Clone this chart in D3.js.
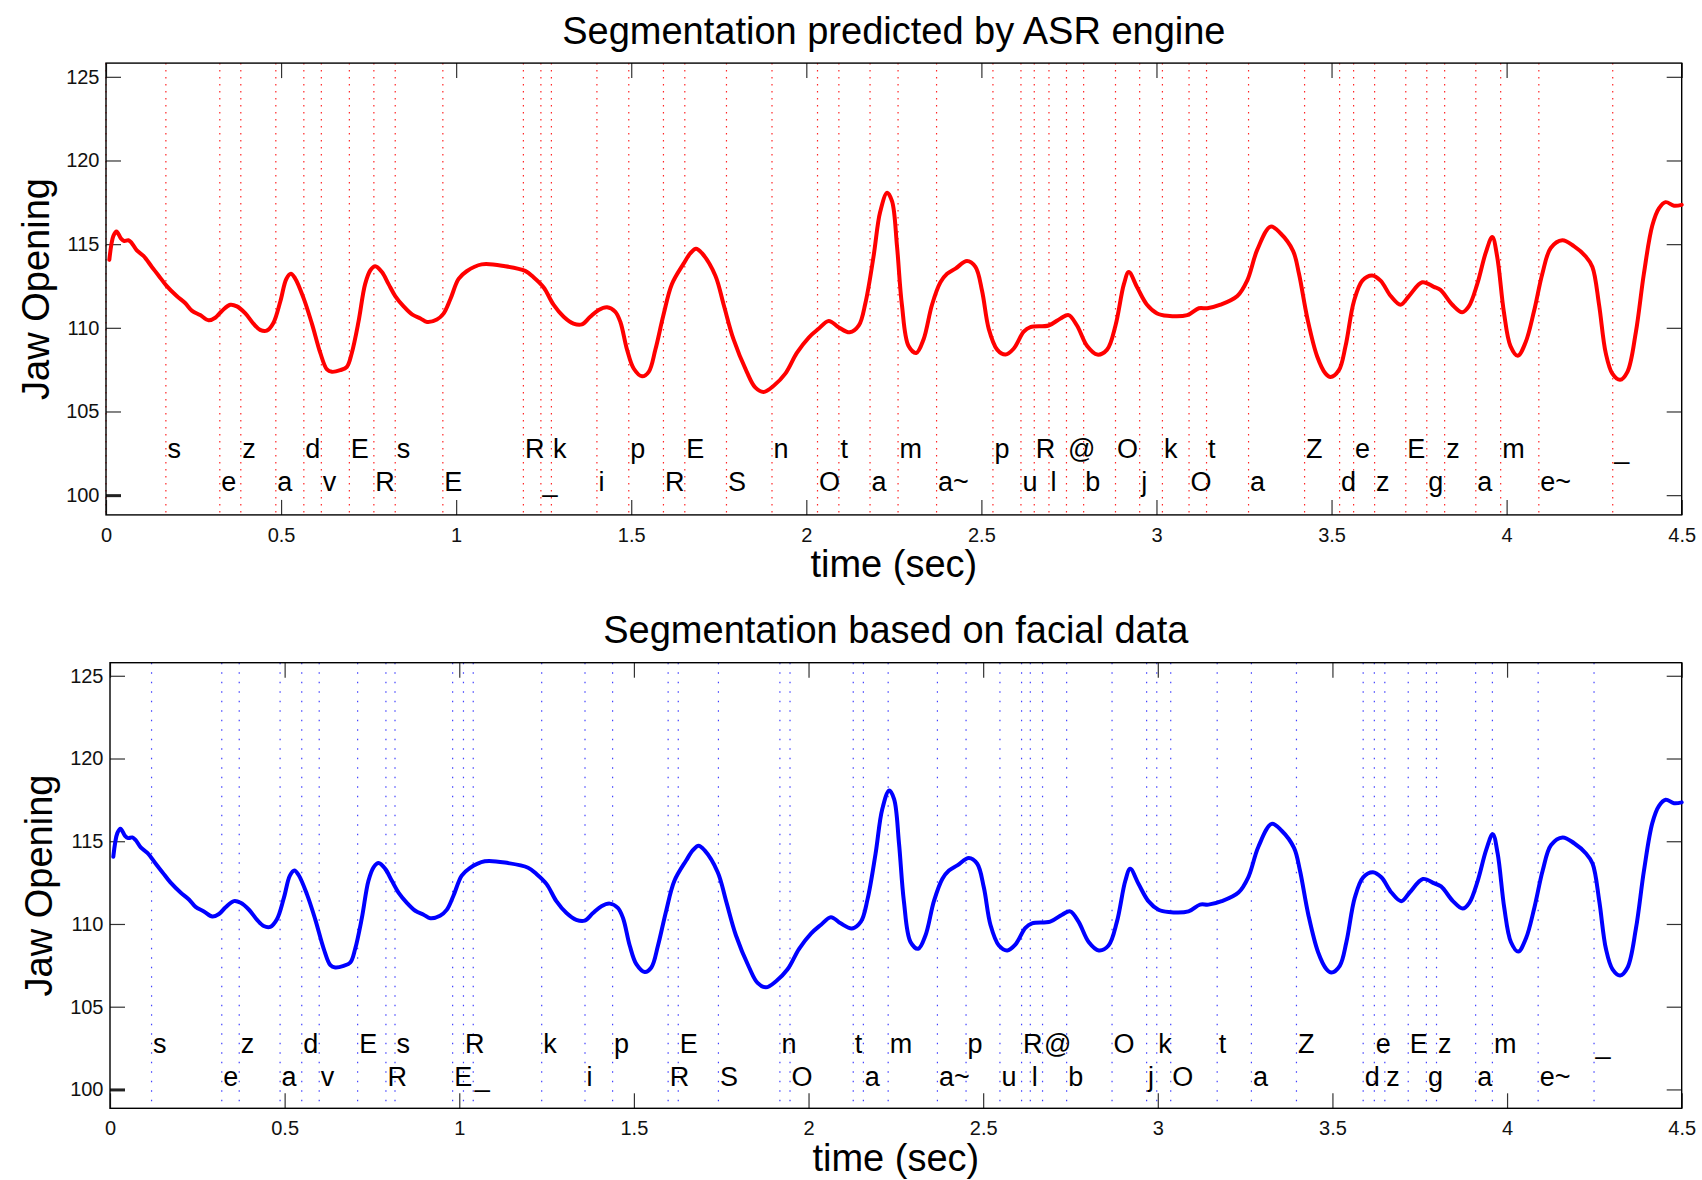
<!DOCTYPE html>
<html><head><meta charset="utf-8">
<script src="https://cdn.jsdelivr.net/npm/d3@7"></script>
<style>
body{margin:0;background:#fff}
svg{display:block}
text{font-family:"Liberation Sans",Arial,Helvetica,sans-serif}
</style>
</head><body>
<svg id="c" width="1702" height="1180"></svg>
<script>
// ---- data ----
const timeSec = [0.0095,0.021,0.030,0.043,0.052,0.064,0.073,0.088,0.107,0.131,0.150,0.173,0.202,0.226,0.245,0.269,0.293,0.312,0.331,0.355,0.374,0.398,0.421,0.440,0.459,0.478,0.498,0.515,0.528,0.540,0.564,0.588,0.612,0.631,0.645,0.669,0.688,0.702,0.721,0.740,0.755,0.769,0.788,0.807,0.826,0.850,0.874,0.898,0.917,0.945,0.964,0.983,1.007,1.030,1.073,1.140,1.197,1.221,1.250,1.278,1.307,1.335,1.359,1.383,1.407,1.431,1.454,1.469,1.488,1.507,1.531,1.550,1.569,1.592,1.616,1.650,1.669,1.685,1.702,1.740,1.764,1.792,1.830,1.854,1.878,1.907,1.940,1.973,2.007,2.035,2.064,2.092,2.124,2.150,2.169,2.192,2.211,2.231,2.245,2.259,2.273,2.292,2.314,2.335,2.359,2.383,2.402,2.426,2.459,2.483,2.502,2.521,2.545,2.569,2.592,2.621,2.640,2.692,2.726,2.749,2.773,2.802,2.831,2.859,2.883,2.907,2.921,2.945,2.973,3.002,3.031,3.088,3.121,3.145,3.183,3.231,3.259,3.288,3.326,3.354,3.390,3.407,3.431,3.459,3.483,3.497,3.521,3.540,3.564,3.588,3.616,3.640,3.669,3.697,3.721,3.759,3.792,3.811,3.845,3.873,3.892,3.916,3.940,3.959,3.973,3.992,4.011,4.032,4.054,4.078,4.102,4.126,4.159,4.192,4.226,4.245,4.264,4.283,4.302,4.324,4.345,4.369,4.392,4.416,4.435,4.454,4.478,4.500];
const jawOpening = [114.06,115.49,115.76,115.33,115.19,115.23,115.08,114.63,114.30,113.64,113.13,112.51,111.90,111.48,111.03,110.76,110.45,110.60,111.01,111.38,111.28,110.86,110.25,109.88,109.83,110.29,111.59,112.92,113.23,112.96,111.79,110.25,108.50,107.51,107.37,107.47,107.67,108.50,110.35,112.61,113.44,113.68,113.33,112.61,111.90,111.28,110.80,110.56,110.35,110.50,110.85,111.69,112.92,113.38,113.79,113.68,113.40,113.02,112.41,111.38,110.66,110.25,110.20,110.66,111.07,111.23,110.97,110.35,108.70,107.57,107.10,107.37,108.70,110.76,112.61,113.85,114.46,114.73,114.46,113.13,111.38,109.32,107.37,106.44,106.17,106.54,107.26,108.50,109.42,109.94,110.41,110.04,109.73,110.14,111.50,114.26,116.93,118.07,117.55,114.88,111.38,108.91,108.50,109.32,111.38,112.72,113.23,113.54,113.99,113.64,112.20,109.94,108.70,108.40,108.75,109.77,110.04,110.14,110.56,110.76,110.14,108.91,108.40,108.70,110.14,112.61,113.33,112.41,111.38,110.86,110.72,110.76,111.17,111.17,111.38,111.90,112.82,114.67,116.05,115.65,114.60,113.23,110.56,108.29,107.26,107.06,107.47,108.91,111.59,112.82,113.13,112.82,111.90,111.38,111.90,112.72,112.45,112.27,111.38,110.93,111.28,112.61,114.46,115.43,114.26,110.97,108.91,108.33,109.12,110.97,113.23,114.77,115.23,114.88,114.26,113.64,111.38,108.50,107.26,106.89,107.37,109.73,113.23,116.11,117.14,117.51,117.30,117.35];

const phonemes = ["s","e","z","a","d","v","E","R","s","E","R","_","k","i","p","R","E","S","n","O","t","a","m","a~","p","u","R","l","@","b","O","j","k","O","t","a","Z","d","e","z","E","g","z","a","m","e~","_"];
const asrBoundaries = [0.171,0.325,0.385,0.485,0.565,0.615,0.695,0.765,0.826,0.962,1.192,1.242,1.272,1.402,1.493,1.592,1.653,1.772,1.902,2.032,2.093,2.182,2.262,2.372,2.533,2.613,2.651,2.693,2.743,2.792,2.883,2.952,3.017,3.093,3.143,3.263,3.423,3.523,3.563,3.623,3.712,3.772,3.823,3.912,3.983,4.092,4.303];
const asrLeadingBoundary = [0];
const facialBoundaries = [0.119,0.320,0.370,0.487,0.549,0.599,0.709,0.790,0.816,0.981,1.012,1.040,1.236,1.360,1.439,1.598,1.627,1.742,1.918,1.947,2.128,2.157,2.228,2.369,2.451,2.548,2.610,2.635,2.670,2.739,2.869,2.968,2.997,3.037,3.170,3.268,3.397,3.588,3.620,3.650,3.717,3.769,3.798,3.910,3.958,4.089,4.249];
const xTicks = [0,0.5,1,1.5,2,2.5,3,3.5,4,4.5];
const yTicks = [100,105,110,115,120,125];
const labelRows = [102.2, 100.22];
const titles = ["Segmentation predicted by ASR engine","Segmentation based on facial data"];

// ---- drawing ----
const svg = d3.select("#c");
svg.append("rect").attr("width",1702).attr("height",1180).attr("fill","#fff");

const panels = [
  {title:titles[0], box:{l:106,r:1681.7,t:63.1,b:514.9}, dom:[98.82,125.82], color:"#ff0000", bounds:asrLeadingBoundary, labelBounds:asrBoundaries, dash:"1.5,5.5", lineOpacity:0.85, titleY:44, xlabY:577, ylabX:49},
  {title:titles[1], box:{l:110,r:1681.7,t:662.7,b:1108.3}, dom:[98.86,125.79], color:"#0000ff", bounds:[], labelBounds:facialBoundaries, dash:"1.5,8", lineOpacity:0.75, titleY:643, xlabY:1171, ylabX:52}
];

panels.forEach(p => {
  const B = p.box;
  const x = d3.scaleLinear().domain([0,4.5]).range([B.l,B.r]);
  const y = d3.scaleLinear().domain(p.dom).range([B.b,B.t]);
  const g = svg.append("g");

  // segment boundaries
  const allB = p.bounds.concat(p.labelBounds);
  g.selectAll("line.seg").data(allB).enter().append("line")
    .attr("x1",d=>x(d)).attr("x2",d=>x(d))
    .attr("y1",B.t).attr("y2",B.b)
    .attr("stroke",p.color).attr("stroke-width",1.2)
    .attr("stroke-opacity",p.lineOpacity)
    .attr("stroke-dasharray",p.dash);

  // axes (inward ticks, MATLAB style)
  const fmt = d => String(d);
  const ax = [
    g.append("g").attr("transform",`translate(0,${B.b})`).call(d3.axisBottom(x).tickValues(xTicks).tickFormat(fmt).tickSizeInner(-15).tickSizeOuter(0).tickPadding(12.6)),
    g.append("g").attr("transform",`translate(0,${B.t})`).call(d3.axisTop(x).tickValues(xTicks).tickFormat("").tickSizeInner(-15).tickSizeOuter(0)),
    g.append("g").attr("class","yl").attr("transform",`translate(${B.l},0)`).call(d3.axisLeft(y).tickValues(yTicks).tickFormat(fmt).tickSizeInner(-15).tickSizeOuter(0).tickPadding(6.5)),
    g.append("g").attr("transform",`translate(${B.r},0)`).call(d3.axisRight(y).tickValues(yTicks).tickFormat("").tickSizeInner(-15).tickSizeOuter(0))
  ];
  ax.forEach(a => {
    a.select(".domain").remove();
    a.selectAll(".tick line").attr("stroke","#333").attr("stroke-width",1.2);
    a.selectAll(".tick text").attr("fill","#111").style("font-size","20px")
      .style("font-family",'"Liberation Sans",Arial,sans-serif');
  });
  // the lowest left tick is drawn heavier in the reference
  ax[2].selectAll(".tick").filter(d => d === 100).select("line").attr("stroke-width",3).attr("stroke","#222");

  // box
  g.append("rect").attr("x",B.l).attr("y",B.t).attr("width",B.r-B.l).attr("height",B.b-B.t)
    .attr("fill","none").attr("stroke","#000").attr("stroke-width",1.4);

  // curve
  const line = d3.line().x((d,i)=>x(timeSec[i])).y(d=>y(d)).curve(d3.curveCatmullRom.alpha(0.5));
  g.append("path").datum(jawOpening).attr("d",line)
    .attr("fill","none").attr("stroke",p.color).attr("stroke-width",4)
    .attr("stroke-linejoin","round").attr("stroke-linecap","round");

  // phoneme labels
  g.selectAll("text.ph").data(phonemes).enter().append("text")
    .attr("x",(d,i)=>x(p.labelBounds[i])+1.5)
    .attr("y",(d,i)=>y(labelRows[i%2]))
    .attr("fill","#000").style("font-size","27px")
    .text(d=>d);

  // title & axis labels
  svg.append("text").attr("x",(B.l+B.r)/2).attr("y",p.titleY).attr("text-anchor","middle")
    .style("font-size","38px").attr("fill","#000").text(p.title);
  svg.append("text").attr("x",(B.l+B.r)/2).attr("y",p.xlabY).attr("text-anchor","middle")
    .style("font-size","38px").attr("fill","#000").text("time (sec)");
  svg.append("text").attr("transform",`translate(${p.ylabX},${(B.t+B.b)/2}) rotate(-90)`)
    .attr("text-anchor","middle").style("font-size","38px").attr("fill","#000").text("Jaw Opening");
});
</script>
</body></html>
